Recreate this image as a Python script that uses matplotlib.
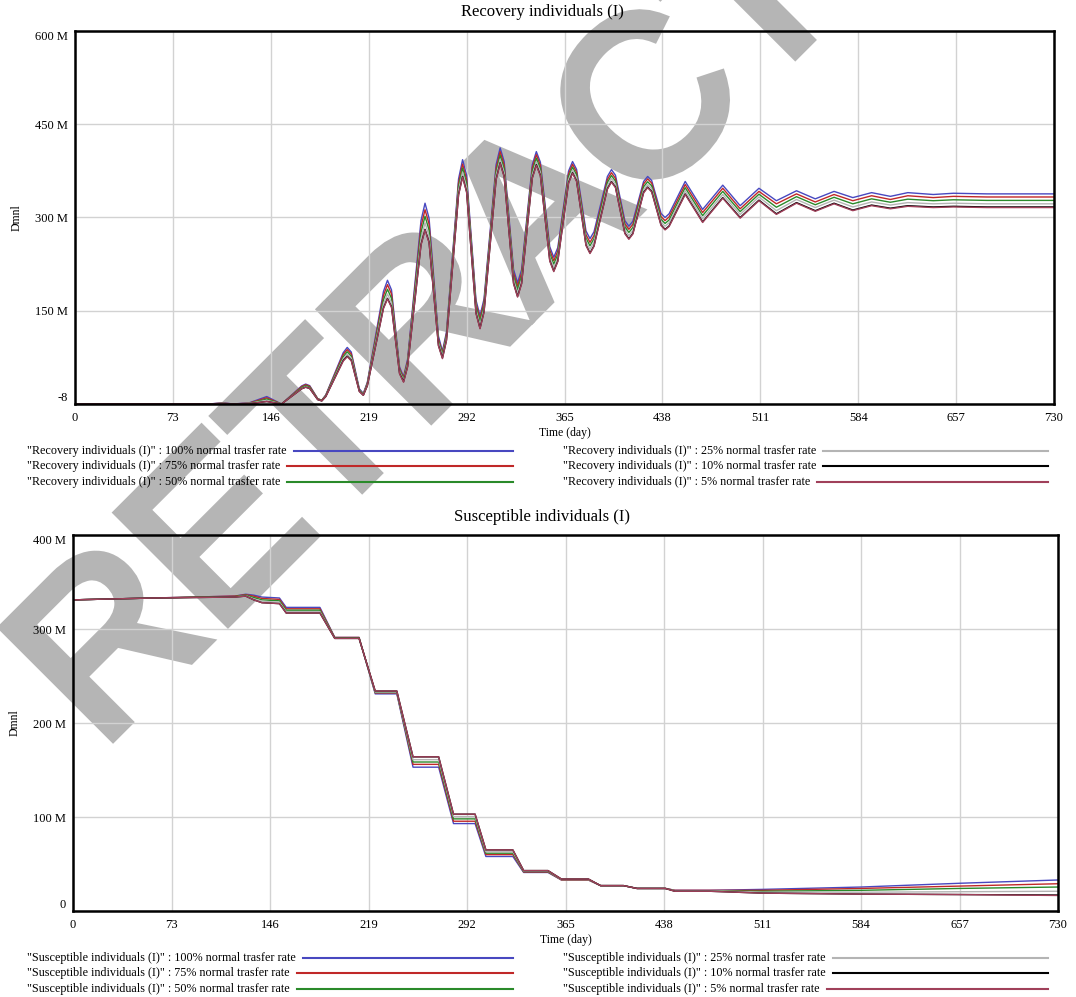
import matplotlib
matplotlib.use('Agg')
import matplotlib.pyplot as plt
import matplotlib.patheffects as pe
from matplotlib.lines import Line2D

# Recovery individuals (I), values in millions
rec_days = [0, 100, 110, 118, 130, 143, 154,
            169, 172, 175, 181, 184, 187, 200, 203, 206, 212, 215, 218,
            230, 233, 236, 242, 245, 248, 258, 261, 264, 271, 274, 277,
            286, 289, 292, 299, 302, 305, 314, 317, 320, 327, 330, 333,
            341, 344, 347, 354, 357, 360, 368, 371, 374, 381, 384, 387,
            397, 400, 403, 410, 413, 416, 424, 427, 430, 437, 440, 443,
            455, 468, 483, 496, 510, 523, 538, 552, 566, 580, 594, 608, 621,
            640, 655, 680, 730]
rec_100 = [0, 0, 2, 0, 2, 12, 0,
           29, 32, 29.5, 8.5, 6, 14.5, 82.5, 91, 83.5, 24.5, 17, 35,
           181, 199, 183.5, 59.5, 44, 72, 295, 323, 299, 109, 85, 116,
           362, 393, 368, 167, 142, 169, 385, 412, 390, 216.5, 195, 216,
           385, 406, 389, 253, 236, 251.5, 374.5, 390, 377.5, 278.5, 266, 277,
           366, 377, 368, 295, 286, 294, 358, 366, 359.5, 306.5, 300, 306,
           358, 313, 352, 319, 347, 327, 343, 330, 342, 332, 340, 334, 340,
           337, 339, 338, 338]
rec_75 = [0, 0, 1.5, 0, 1.5, 10, 0,
          28, 31, 28.5, 8.5, 6, 14, 79.5, 87.5, 80.5, 23, 16, 33.5,
          174.5, 192, 177, 57, 42, 69, 285.5, 312.5, 289.5, 105, 82, 112.5,
          355.5, 386, 361, 162, 137, 164, 379, 406, 384.5, 211, 189.5, 210.5,
          380, 401, 384, 247.5, 230.5, 246, 370, 385.5, 373, 272.5, 260, 271,
          361, 372, 363, 290, 281, 289, 354, 362, 355.5, 301.5, 295, 301,
          353, 308, 347, 314, 342, 322, 338, 325, 337, 327, 335, 329, 335,
          332, 334, 333, 333]
rec_50 = [0, 0, 1, 0, 1, 8, 0,
          26.5, 29.5, 27, 8, 5.5, 13.5, 76, 84, 77, 22.5, 15.5, 32.5,
          167.5, 184.5, 170, 54.5, 40, 66, 276, 302, 280, 101.5, 79.5, 109.5,
          349.5, 379.5, 355, 157, 132, 159, 373, 400, 378.5, 205.5, 184, 205,
          374.5, 395.5, 378.5, 242, 225, 240.5, 365.5, 381, 368.5, 267, 254.5, 266,
          356.5, 367.5, 358.5, 285, 276, 284, 349.5, 357.5, 351, 297, 290.5, 296,
          348, 303, 342, 309.5, 337.5, 316.5, 333.5, 320.5, 332.5, 322, 330, 324.5, 329.5,
          327, 328.5, 327.5, 327.5]
rec_25 = [0, 0, 1, 0, 1, 6, 0,
          25, 28, 25.5, 7.5, 5, 12.5, 73, 80.5, 74, 21.5, 15, 31,
          161, 177, 163, 52, 38, 63.5, 266, 291.5, 270, 98.5, 77, 106.5,
          343.5, 373, 348.5, 151.5, 127, 153.5, 367.5, 394, 372.5, 200, 178.5, 199.5,
          369, 390, 373, 236.5, 219.5, 235, 361, 376.5, 364, 261.5, 249, 260.5,
          351.5, 363, 354, 280, 271, 279, 345, 353, 346.5, 292.5, 286, 291.5,
          343, 298, 337, 305, 333, 311, 329, 316, 328, 317, 325, 320, 324,
          322, 323, 322, 322]
rec_10 = [0, 0, 0.5, 0, 0.5, 4, 0,
          24.5, 27, 25, 7, 5, 12, 70, 77, 70.5, 20.5, 14, 29.5,
          154.5, 170, 156.5, 49.5, 36, 60.5, 256.5, 281, 260.5, 94.5, 74, 103,
          337, 366, 341.5, 146.5, 122, 148.5, 361.5, 388, 366.5, 194.5, 173, 194,
          364, 385, 368, 231, 214, 230, 356, 372, 359, 256, 243, 254.5,
          346.5, 358, 349, 275, 266, 274.5, 340.5, 349, 342, 288, 281, 286.5,
          338, 293, 332, 300, 328, 306, 324, 311, 323, 312, 320, 315, 319,
          317, 318, 317, 317]
rec_5 = [0, 0, 0.5, 0, 0.5, 4, 0,
         24.5, 27, 25, 7, 5, 12, 69, 76, 69.5, 20, 14, 29.5,
         153.5, 169, 155.5, 48.5, 35, 59.5, 255.5, 280, 259.5, 93.5, 73, 102,
         336, 365, 340.5, 145.5, 121, 147.5, 360.5, 387, 365.5, 193.5, 172, 193,
         363, 384, 367, 230, 213, 229, 355, 371, 358, 255, 242, 253.5,
         345.5, 357, 348, 274, 265, 273.5, 339.5, 348, 341, 287, 280, 285.5,
         337, 292, 331, 299, 327, 305, 323, 310, 322, 311, 319, 314, 318,
         316, 317, 316, 316]

# Susceptible individuals (I), values in millions
sus_days = [0, 60, 120, 128, 134, 140, 153, 158, 183, 194, 212, 224, 240, 252, 271,
            282, 298, 306, 326, 334, 352, 362, 382, 391, 408, 418, 439, 446, 472, 511,
            584, 657, 730]
sus_100 = [331, 333, 335, 337, 336, 334, 333, 323, 323, 291, 291, 231, 231, 153, 153,
           93, 93, 58, 58, 41, 41, 33, 33, 27, 27, 24, 24, 22, 22, 23, 25.5, 29.5, 33]
sus_75 = [331, 333, 335, 336.5, 335, 332.5, 331.5, 321.5, 321.5, 291, 291, 232, 232, 156, 156,
          95.5, 95.5, 60, 60, 41.5, 41.5, 33, 33, 27, 27, 24, 24, 22, 22, 22, 24, 26.5, 29]
sus_50 = [331, 333, 334.5, 336, 333.5, 331, 330, 320, 320, 290.5, 290.5, 232.5, 232.5, 158.5, 158.5,
          98, 98, 61.5, 61.5, 42, 42, 33.5, 33.5, 27, 27, 24, 24, 21.5, 21.5, 21, 22, 24, 25.5]
sus_25 = [331, 333, 334, 335.5, 332, 329.5, 328.5, 318.5, 318.5, 290, 290, 233, 233, 161, 161,
          100.5, 100.5, 63, 63, 42.5, 42.5, 33.5, 33.5, 27, 27, 24, 24, 21.5, 21.5, 20, 20, 20.5, 21]
sus_10 = [331, 333, 334, 335, 331, 328, 327, 317, 317, 290, 290, 234, 234, 164, 164,
          103, 103, 65, 65, 43, 43, 34, 34, 27, 27, 24, 24, 21, 21, 19, 18, 17.5, 17]
sus_5 = [331, 333, 334, 335, 331, 328, 327, 317, 317, 290, 290, 234, 234, 164, 164,
         103, 103, 65, 65, 43, 43, 34, 34, 27, 27, 24, 24, 21, 21, 19, 18, 17.5, 16.5]

runs = ['100%', '75%', '50%', '25%', '10%', '5%']
colors = ['#4848c0', '#c02828', '#2a8a2a', '#b4b4b4', '#000000', '#a0405a']
x_ticks = [0, 73, 146, 219, 292, 365, 438, 511, 584, 657, 730]

W, H = 1076, 997
fig = plt.figure(figsize=(W / 100, H / 100), dpi=100)
serif = 'Liberation Serif'
stamp_grey = '#b5b5b5'

# big diagonal stamp behind everything
fig.text(100 / W, 1 - 750 / H, 'RETRACTED', rotation=45, rotation_mode='anchor',
         ha='left', va='baseline', fontsize=162, family='Liberation Sans',
         color=stamp_grey, zorder=-1,
         path_effects=[pe.withStroke(linewidth=7, foreground=stamp_grey,
                                     joinstyle='miter')])


def px_axes(l, t, r, b):
    return fig.add_axes([l / W, 1 - b / H, (r - l) / W, (b - t) / H])


def style(ax, ymax, ystep, ylabels):
    ax.set_facecolor('none')
    ax.set_xlim(0, 730)
    ax.set_ylim(0, ymax)
    ax.set_xticks(x_ticks)
    ax.set_xticklabels([str(v) for v in x_ticks], family=serif, fontsize=9)
    yt = list(range(0, ymax + 1, ystep))
    ax.set_yticks(yt)
    ax.set_yticklabels(ylabels, family=serif, fontsize=9)
    labs = ax.get_yticklabels()
    labs[0].set_va('bottom')
    labs[-1].set_va('top')
    ax.tick_params(length=0, pad=5)
    ax.tick_params(axis='x', pad=6)
    ax.grid(True, color='#d2d2d2', lw=1)
    ax.set_axisbelow(True)
    for s in ax.spines.values():
        s.set_linewidth(1.8)
        s.set_color('black')
    ax.set_xlabel('Time (day)', family=serif, fontsize=8.5, labelpad=2)
    ax.set_ylabel('Dmnl', family=serif, fontsize=8.5, labelpad=9)


ax1 = px_axes(75, 31, 1054, 404)
for vals, c in zip([rec_100, rec_75, rec_50, rec_25, rec_10, rec_5], colors):
    ax1.plot(rec_days, vals, color=c, lw=1.0)
style(ax1, 600, 150, ['-8', '150 M', '300 M', '450 M', '600 M'])

ax2 = px_axes(73, 535, 1058, 911)
for vals, c in zip([sus_100, sus_75, sus_50, sus_25, sus_10, sus_5], colors):
    ax2.plot(sus_days, vals, color=c, lw=1.0)
style(ax2, 400, 100, ['0', '100 M', '200 M', '300 M', '400 M'])

fig.text(542 / W, 1 - 12 / H, 'Recovery individuals (I)', family=serif, fontsize=12,
         ha='center', va='center')
fig.text(542 / W, 1 - 517 / H, 'Susceptible individuals (I)', family=serif, fontsize=12,
         ha='center', va='center')

# legends under each chart: text followed by a sample line
renderer = fig.canvas.get_renderer()


def legend(var, rows_y):
    cols = [(27, 513), (563, 1048)]
    for i, (run, c) in enumerate(zip(runs, colors)):
        x0, x1 = cols[i // 3]
        y = 1 - rows_y[i % 3] / H
        t = fig.text(x0 / W, y, '"%s" : %s normal trasfer rate' % (var, run),
                     family=serif, fontsize=8.7, ha='left', va='center')
        bb = t.get_window_extent(renderer)
        fig.add_artist(Line2D([(bb.x1 + 7) / W, x1 / W], [y, y], color=c, lw=1.5,
                              transform=fig.transFigure))


legend('Recovery individuals (I)', [451, 466, 482])
legend('Susceptible individuals (I)', [958, 973, 989])

fig.savefig('out.png', dpi=100)
